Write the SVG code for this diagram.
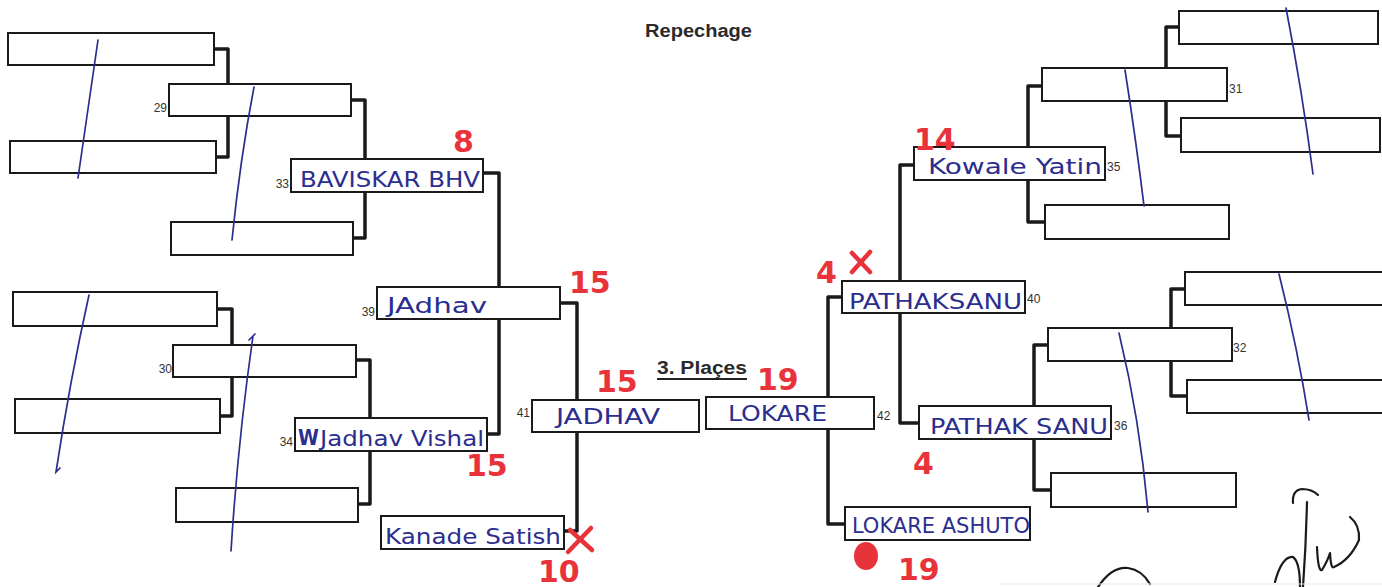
<svg xmlns="http://www.w3.org/2000/svg" width="1382" height="587" viewBox="0 0 1382 587">
<style>
.box{fill:#fff;stroke:#1a1a1a;stroke-width:2}
.conn{fill:none;stroke:#1a1a1a;stroke-width:3.5;stroke-linejoin:round}
.num{font-family:"Liberation Sans",Arial,sans-serif;font-size:12px;fill:#333}
.hand{font-family:"DejaVu Sans Condensed","DejaVu Sans",sans-serif;font-size:21px;fill:#2b2e8e}
.score{font-family:"DejaVu Sans","Liberation Sans",sans-serif;font-size:30px;font-weight:bold;fill:#e8333b}
.pen{fill:none;stroke:#2b2e8e;stroke-width:1.7;stroke-linecap:round}
.redpen{fill:none;stroke:#e8333b;stroke-width:4.5;stroke-linecap:round}
.sig{fill:none;stroke:#1a1a1a;stroke-width:2.2;stroke-linecap:round;stroke-linejoin:round}
.title{font-family:"Liberation Sans",Arial,sans-serif;font-size:18px;font-weight:bold;fill:#2a2a2a}
</style>
<rect width="1382" height="587" fill="#fff"/>
<text class="title" x="645" y="37" textLength="107" lengthAdjust="spacingAndGlyphs">Repechage</text>
<g id="connectors">
<path class="conn" d="M214,49 H228 V157 H216"/>
<path class="conn" d="M217,309 H232 V416 H220"/>
<path class="conn" d="M350,100 H365 V238 H353"/>
<path class="conn" d="M356,360 H370 V504 H358"/>
<path class="conn" d="M483,173 H499 V434 H487"/>
<path class="conn" d="M560,303 H577 V531 H564"/>
<path class="conn" d="M1179,27 H1166 V136 H1181"/>
<path class="conn" d="M1043,86 H1028 V222 H1045"/>
<path class="conn" d="M1185,289 H1171 V396 H1188"/>
<path class="conn" d="M1048,345 H1034 V490 H1051"/>
<path class="conn" d="M915,165 H900 V423 H919"/>
<path class="conn" d="M843,297 H828 V524 H845"/>
</g>
<g id="l1"><rect class="box" x="8" y="33" width="206" height="32"/></g>
<g id="l2"><rect class="box" x="10" y="141" width="206" height="32"/></g>
<g id="m29"><rect class="box" x="169" y="84" width="182" height="32"/><text class="num" x="167" y="112" text-anchor="end">29</text></g>
<g id="l29b"><rect class="box" x="171" y="222" width="182" height="33"/></g>
<g id="m33"><rect class="box" x="291" y="159" width="192" height="33"/><text class="num" x="289" y="188" text-anchor="end">33</text><text class="hand" x="300" y="187" textLength="180" lengthAdjust="spacingAndGlyphs">BAVISKAR BHV</text></g>
<g id="l3"><rect class="box" x="13" y="292" width="204" height="34"/></g>
<g id="l4"><rect class="box" x="15" y="399" width="205" height="34"/></g>
<g id="m30"><rect class="box" x="173" y="345" width="183" height="32"/><text class="num" x="172" y="373" text-anchor="end">30</text></g>
<g id="l30b"><rect class="box" x="176" y="488" width="182" height="34"/></g>
<g id="m34"><rect class="box" x="295" y="418" width="192" height="33"/><text class="num" x="293" y="446" text-anchor="end">34</text><text class="hand" x="298" y="445" font-weight="bold" font-size="17">W</text><text class="hand" x="320" y="446" textLength="164" lengthAdjust="spacingAndGlyphs">Jadhav Vishal</text></g>
<g id="m39"><rect class="box" x="377" y="287" width="183" height="32"/><text class="num" x="375" y="316" text-anchor="end">39</text><text class="hand" x="387" y="313" textLength="100" lengthAdjust="spacingAndGlyphs">JAdhav</text></g>
<g id="m41"><rect class="box" x="532" y="400" width="167" height="32"/><text class="num" x="530" y="417" text-anchor="end">41</text><text class="hand" x="556" y="424" textLength="104" lengthAdjust="spacingAndGlyphs">JADHAV</text></g>
<g id="kanade"><rect class="box" x="381" y="516" width="183" height="33"/><text class="hand" x="385" y="544" textLength="176" lengthAdjust="spacingAndGlyphs">Kanade Satish</text></g>
<g id="m42"><rect class="box" x="706" y="397" width="168" height="32"/><text class="num" x="877" y="420">42</text><text class="hand" x="728" y="421" textLength="99" lengthAdjust="spacingAndGlyphs">LOKARE</text></g>
<g id="m40"><rect class="box" x="842" y="281" width="183" height="32"/><text class="num" x="1027" y="303">40</text><text class="hand" x="849" y="309" textLength="173" lengthAdjust="spacingAndGlyphs">PATHAKSANU</text></g>
<g id="m35"><rect class="box" x="914" y="147" width="191" height="33"/><text class="num" x="1107" y="171">35</text><text class="hand" x="928" y="174" textLength="174" lengthAdjust="spacingAndGlyphs">Kowale Yatin</text></g>
<g id="m36"><rect class="box" x="919" y="406" width="192" height="33"/><text class="num" x="1114" y="430">36</text><text class="hand" x="930" y="434" textLength="178" lengthAdjust="spacingAndGlyphs">PATHAK SANU</text></g>
<g id="lokareashuto"><rect class="box" x="845" y="507" width="185" height="33"/><text class="hand" x="852" y="533" textLength="178" lengthAdjust="spacingAndGlyphs">LOKARE ASHUTO</text></g>
<g id="m31"><rect class="box" x="1042" y="68" width="185" height="33"/><text class="num" x="1229" y="93">31</text></g>
<g id="r35b"><rect class="box" x="1045" y="205" width="184" height="34"/></g>
<g id="r1"><rect class="box" x="1179" y="11" width="199" height="33"/></g>
<g id="r2"><rect class="box" x="1181" y="118" width="199" height="34"/></g>
<g id="m32"><rect class="box" x="1048" y="328" width="184" height="33"/><text class="num" x="1233" y="352">32</text></g>
<g id="r36b"><rect class="box" x="1051" y="473" width="185" height="34"/></g>
<g id="r3"><rect class="box" x="1185" y="272" width="200" height="33"/></g>
<g id="r4"><rect class="box" x="1187" y="380" width="200" height="33"/></g>
<g id="places"><text class="title" x="657" y="374" font-size="17" textLength="90" lengthAdjust="spacingAndGlyphs">3. Plaçes</text><line x1="657" y1="379" x2="747" y2="379" stroke="#222" stroke-width="2"/></g>
<g id="pen-strokes">
<path class="pen" d="M98,40 Q88,110 78,178"/>
<path class="pen" d="M254,87 Q240,160 232,240"/>
<path class="pen" d="M89,295 Q70,380 56,472 L60,468"/>
<path class="pen" d="M253,336 Q238,440 231,551 M249,340 L255,334"/>
<path class="pen" d="M1286,8 Q1302,90 1313,174"/>
<path class="pen" d="M1125,70 Q1136,140 1144,206"/>
<path class="pen" d="M1279,274 Q1298,350 1309,420"/>
<path class="pen" d="M1119,333 Q1140,420 1148,512"/>
</g>
<g id="scores">
<text class="score" x="453" y="152" font-size="26">8</text>
<text class="score" x="569" y="293">15</text>
<text class="score" x="596" y="392">15</text>
<text class="score" x="466" y="476">15</text>
<text class="score" x="538" y="582">10</text>
<path class="redpen" d="M570,530 L592,550 M591,528 L568,552"/>
<text class="score" x="757" y="390">19</text>
<text class="score" x="816" y="283">4</text>
<path class="redpen" d="M852,253 L870,272 M870,252 L852,272"/>
<text class="score" x="914" y="150" font-size="28">14</text>
<text class="score" x="913" y="474">4</text>
<ellipse cx="866" cy="556" rx="12" ry="14" fill="#e8333b"/>
<text class="score" x="898" y="580">19</text>
</g>
<g id="signature">
<path class="sig" d="M1293,503 Q1292,490 1302,489 Q1312,489 1318,495"/>
<path class="sig" d="M1307,502 Q1306,545 1303,587"/>
<path class="sig" d="M1275,582 Q1282,556 1293,557 Q1300,562 1300,587"/>
<path class="sig" d="M1317,547 Q1318,572 1322,570 Q1328,560 1330,553 Q1331,570 1334,567 Q1350,560 1359,540 Q1360,525 1350,517"/>
<path class="sig" d="M1098,587 Q1112,566 1128,568 Q1142,570 1150,584"/>
<line x1="1000" y1="584" x2="1382" y2="584" stroke="#e6e6e6" stroke-width="1"/>
</g>
</svg>
